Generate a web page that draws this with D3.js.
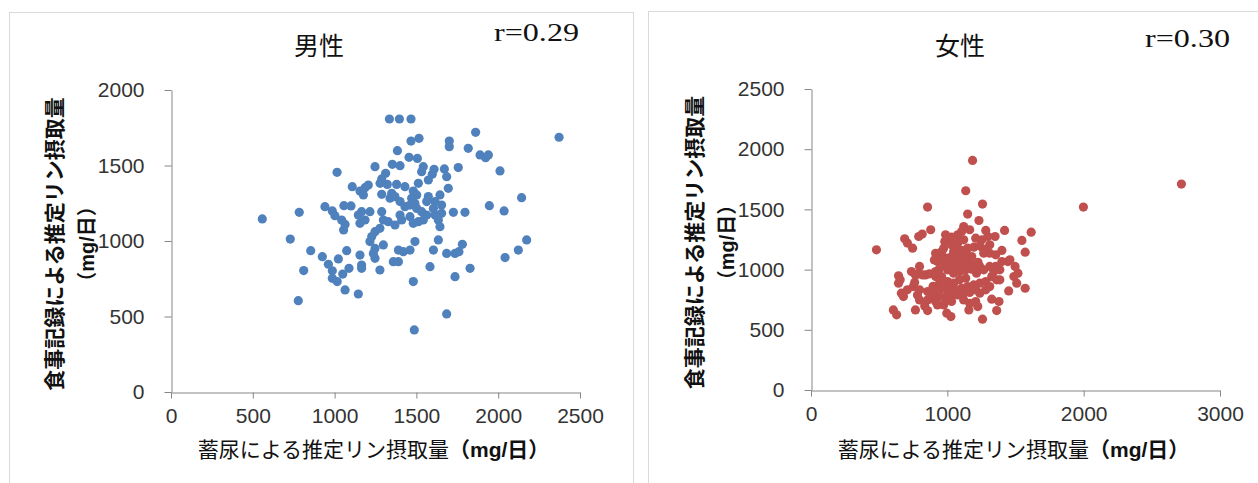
<!DOCTYPE html>
<html>
<head>
<meta charset="utf-8">
<script src="https://cdn.jsdelivr.net/npm/d3@7"></script>
<style>
  body { margin: 0; background: #fff; }
  svg { display: block; }
</style>
</head>
<body>
<script>
// male: urine-estimated vs diet-record phosphorus intake (mg/day)
var maleX = [558,784,729,778,811,854,925,1015,941,986,1002,1057,1100,1043,1064,1055,1108,1074,1023,962,986,1088,1050,986,1016,1064,
  1335,1396,1467,1467,1516,1701,1701,1384,1455,1506,1247,1353,1400,1542,1532,1608,1597,1573,1671,1685,1756,1312,1288,1278,1322,1379,1430,1512,1695,
  1186,1206,1155,1176,1288,1349,1339,1369,1400,1481,1502,1471,1491,1644,1614,1654,1573,1563,1430,1461,1502,1532,1563,1542,1604,1614,1634,1654,1726,
  1165,1145,1186,1216,1155,1288,1298,1277,1247,1227,1216,1328,1369,1400,1410,1461,1481,1512,1644,1247,1237,1298,1390,1491,1604,1634,1685,1736,
  1155,1165,1165,1247,1277,1359,1390,1420,1461,1583,1481,1736,1145,1685,1487,
  1862,1817,1889,1923,1940,2011,2372,1797,1946,2036,2143,1781,1760,1828,2042,2123,2174];
var maleY = [1146,1190,1013,605,804,936,896,1455,1227,1199,1168,1234,1232,1139,1110,1073,1360,936,881,846,803,819,781,753,731,676,
  1808,1808,1808,1662,1680,1662,1625,1598,1554,1547,1492,1508,1499,1492,1459,1475,1442,1404,1477,1426,1486,1448,1411,1382,1375,1375,1360,1382,1349,
  1353,1371,1331,1305,1309,1316,1283,1294,1261,1331,1305,1283,1249,1305,1261,1238,1294,1261,1227,1238,1216,1194,1172,1139,1216,1172,1139,1183,1190,
  1194,1172,1139,1194,1117,1194,1139,1084,1062,1029,996,1128,1106,1172,1139,1161,1117,1128,1095,951,918,974,940,996,940,1007,918,918,
  907,841,819,885,808,863,863,929,940,830,731,764,649,517,411,
  1720,1614,1570,1552,1570,1464,1687,1190,1234,1199,1287,978,929,819,890,940,1007];

// female
var femaleX = [480,1185,1135,1258,855,1149,1232,1998,2717,1615,1547,1571,1571,1420,1350,1282,1258,1026,996,604,628,766,1158,1362,1379,1326,1450,
  687,707,745,790,816,878,642,654,642,663,678,707,751,760,781,796,834,855,840,869,914,855,890,899,819,790,928,943,
  914,958,1002,928,973,1017,937,914,987,1031,1076,1105,981,1031,1076,1120,1046,1090,1149,1194,1061,1105,1149,1179,
  1031,1076,1120,1164,1208,1002,1046,1090,1135,1179,1214,958,1002,1046,1090,1135,943,973,1017,1061,1105,1149,1194,1238,1282,
  1002,1031,1076,1120,1164,1208,943,987,1238,1282,1311,1326,1341,1311,1362,1385,1267,1238,1267,1311,1355,1400,1444,1459,1497,1518,1488,1509,
  1400,1355,1385,1208,1253,1297,1238,1120,1164,1311,973,1208,1223,1120,1164,1031,914,928,796,855,737,766,796,973,
  905,935,960,1040,1060,1085,1110,1125,980,1010,1055,1095,1140,1175,1225,1265,895,925];
var femaleY = [1164,1907,1655,1544,1519,1461,1408,1519,1710,1311,1242,1145,845,1325,1275,1325,588,610,638,665,624,665,665,660,735,754,823,
  1256,1220,1178,1275,1295,1331,948,915,887,804,776,832,859,892,790,748,698,660,956,965,942,748,762,804,956,965,859,832,
  1136,1109,1095,1067,1040,1026,998,984,1289,1270,1289,1317,1234,1206,1220,1247,1150,1164,1178,1186,1109,1095,1081,1109,
  1053,1040,1026,1053,1040,998,970,984,998,1003,970,942,901,887,915,929,887,859,837,832,845,859,873,887,901,
  804,776,790,804,810,832,776,762,804,832,859,942,984,1026,915,915,998,1026,1136,1136,1123,1159,1067,1081,1026,970,942,887,
  1067,1026,998,1261,1247,1275,1197,1358,1331,1206,1178,735,693,748,720,735,735,707,832,818,984,956,1026,707,
  1080,1120,1150,1120,1180,1130,1060,1160,1090,1080,1010,1070,1130,1020,1060,1170,860,820];

var maleXTicks = [0,500,1000,1500,2000,2500];
var maleYTicks = [0,500,1000,1500,2000];
var femaleXTicks = [0,1000,2000,3000];
var femaleYTicks = [0,500,1000,1500,2000,2500];

var titles = ["男性", "女性"];
var rLabels = ["r=0.29", "r=0.30"];
var yTitle1 = "食事記録による推定リン摂取量";
var yTitle2 = "（mg/日）";
var xTitleMain = "蓄尿による推定リン摂取量";
var xTitleUnit = "（mg/日）";

var svg = d3.select("body").append("svg")
  .attr("width", 1258)
  .attr("height", 483);

var cjk = "'Liberation Sans','Arial','Noto Sans CJK JP',sans-serif";

function drawPanel(p) {
  var g = svg.append("g");

  g.append("rect")
    .attr("x", p.frame[0] + 0.5).attr("y", p.frame[1] + 0.5)
    .attr("width", p.frame[2]).attr("height", p.frame[3])
    .attr("fill", "#fff").attr("stroke", "#d9d9d9");

  var x = d3.scaleLinear().domain(d3.extent(p.xTicks)).range([p.left, p.right]);
  var y = d3.scaleLinear().domain(d3.extent(p.yTicks)).range([p.bottom, p.top]);

  var xAxis = d3.axisBottom(x).tickValues(p.xTicks).tickFormat(d3.format("d"))
    .tickSize(6).tickSizeOuter(0).tickPadding(10);
  var yAxis = d3.axisLeft(y).tickValues(p.yTicks).tickFormat(d3.format("d"))
    .tickSize(7).tickSizeOuter(0).tickPadding(20);

  var gx = g.append("g").attr("transform", "translate(0," + (p.bottom + 0.5) + ")").call(xAxis);
  var gy = g.append("g").attr("transform", "translate(" + (p.left + 0.5) + ",0)").call(yAxis);

  [gx, gy].forEach(function(a) {
    a.select(".domain").attr("stroke", "#868686");
    a.selectAll(".tick line").attr("stroke", "#868686");
    a.selectAll(".tick text")
      .attr("fill", "#333")
      .attr("font-family", "'Liberation Sans',Arial,sans-serif")
      .attr("font-size", 21);
  });

  g.append("g").selectAll("circle")
    .data(p.xs)
    .enter().append("circle")
    .attr("cx", function(d) { return x(d); })
    .attr("cy", function(d, i) { return y(p.ys[i]); })
    .attr("r", 4.6)
    .attr("fill", p.color);

  g.append("text")
    .attr("x", p.titleX).attr("y", 55)
    .attr("text-anchor", "middle")
    .attr("font-family", "'Noto Sans CJK JP',sans-serif")
    .attr("font-size", 25)
    .attr("fill", "#111")
    .text(p.title);

  g.append("text")
    .attr("x", p.rX).attr("y", p.rY)
    .attr("font-family", "'Liberation Serif','Times New Roman',serif")
    .attr("font-size", 25)
    .attr("textLength", 85)
    .attr("lengthAdjust", "spacingAndGlyphs")
    .attr("fill", "#111")
    .text(p.r);

  var cy = (p.top + p.bottom) / 2 + 3;
  g.append("text")
    .attr("transform", "translate(" + (p.left - 109) + "," + cy + ") rotate(-90)")
    .attr("text-anchor", "middle")
    .attr("font-family", cjk)
    .attr("font-weight", "bold")
    .attr("font-size", 21)
    .attr("fill", "#111")
    .text(yTitle1);
  g.append("text")
    .attr("transform", "translate(" + (p.left - 77) + "," + cy + ") rotate(-90)")
    .attr("text-anchor", "middle")
    .attr("font-family", cjk)
    .attr("font-weight", "bold")
    .attr("font-size", 20)
    .attr("fill", "#111")
    .text(yTitle2);

  var xt = g.append("text")
    .attr("x", (p.left + p.right) / 2 - 2).attr("y", 457)
    .attr("text-anchor", "middle")
    .attr("font-family", cjk)
    .attr("font-size", 21)
    .attr("fill", "#111");
  xt.append("tspan").text(xTitleMain);
  xt.append("tspan").attr("font-weight", "bold").text(xTitleUnit);
}

drawPanel({
  frame: [9, 12, 624, 480],
  left: 171, right: 580, top: 90, bottom: 392,
  xTicks: maleXTicks, yTicks: maleYTicks,
  xs: maleX, ys: maleY, color: "#4f81bd",
  title: titles[0], titleX: 319,
  r: rLabels[0], rX: 494, rY: 41
});

drawPanel({
  frame: [648, 11, 620, 480],
  left: 811, right: 1220, top: 89, bottom: 390,
  xTicks: femaleXTicks, yTicks: femaleYTicks,
  xs: femaleX, ys: femaleY, color: "#c0504d",
  title: titles[1], titleX: 960,
  r: rLabels[1], rX: 1145, rY: 47
});
</script>
</body>
</html>
